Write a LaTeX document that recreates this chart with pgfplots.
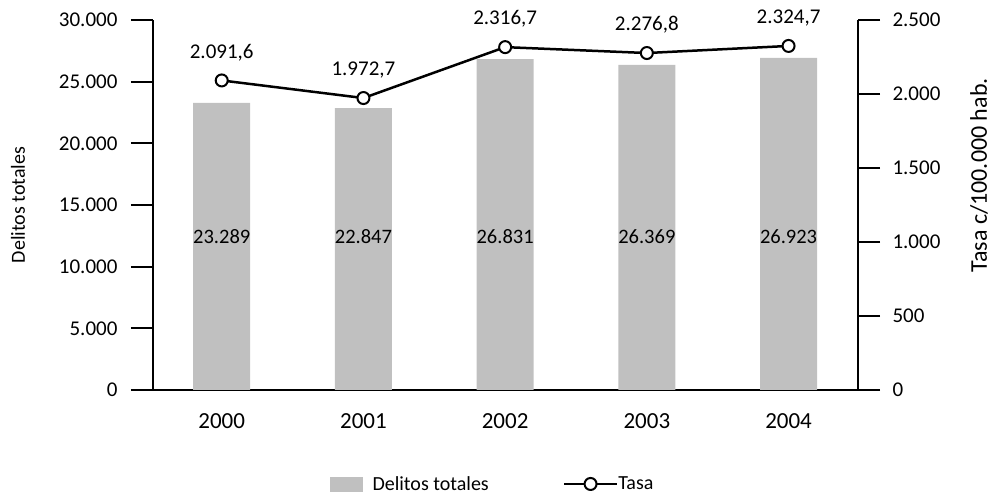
\documentclass[border=0pt]{standalone}
\usepackage{pgfplots}
\pgfplotsset{compat=1.18}
\usepackage{fontspec}
\setmainfont{Carlito}
\definecolor{barcol}{HTML}{C0C0C0}
\begin{document}
\begin{tikzpicture}[font=\fontsize{20}{24}\selectfont]
\useasboundingbox (-153pt,-104pt) rectangle (838pt,390pt);
\begin{axis}[
  scale only axis, width=705pt, height=370pt,
  at={(0pt,0pt)}, anchor=south west,
  xmin=-0.485, xmax=4.49,
  axis line style={line width=2.5pt, black},
  ymin=0, ymax=30000,
  ytick={0,5000,10000,15000,20000,25000,30000},
  scaled y ticks=false,
  axis y line*=left, axis x line*=bottom,
  xtick={0,1,2,3,4}, xticklabels={2000,2001,2002,2003,2004},
  major tick length=22pt, tick align=outside,
  every tick/.style={black, line width=2pt},
  xtick style={draw=none},
  /pgf/number format/assume math mode=true,
  /pgf/number format/use comma,
  /pgf/number format/1000 sep={.},
  yticklabel style={font=\fontsize{21}{24}\selectfont, xshift=-10pt},
  x tick label style={yshift=2pt, font=\fontsize{23}{26}\selectfont},
  ylabel={Delitos totales},
  y label style={at={(axis description cs:-0.1915,0.5)}, anchor=center},
]
\addplot[ybar, bar width=57pt, fill=barcol, draw=none] coordinates {
  (0,23289) (1,22847) (2,26831) (3,26369) (4,26923)
};
\addplot[draw=none, mark=none, nodes near coords, point meta=explicit symbolic,
  nodes near coords style={anchor=center, font=\fontsize{20.5}{24}\selectfont}] coordinates {
  (0,12400) [23.289] (1,12400) [22.847] (2,12400) [26.831] (3,12400) [26.369] (4,12400) [26.923]
};
\end{axis}
\begin{axis}[
  scale only axis, width=705pt, height=370pt,
  at={(0pt,0pt)}, anchor=south west,
  xmin=-0.485, xmax=4.49,
  axis line style={line width=2.5pt, black},
  ymin=0, ymax=2500,
  ytick={0,500,1000,1500,2000,2500},
  axis y line*=right, axis x line=none,
  major tick length=22pt, tick align=outside,
  every tick/.style={black, line width=2pt},
  /pgf/number format/assume math mode=true,
  /pgf/number format/use comma,
  /pgf/number format/1000 sep={.},
  yticklabel style={font=\fontsize{21}{24}\selectfont, xshift=9pt},
  ylabel={Tasa c/100.000 hab.},
  y label style={at={(axis description cs:1.1716,0.58)}, anchor=center, font=\fontsize{24}{28}\selectfont},
  legend style={at={(axis description cs:0.482,-0.254)}, anchor=center, draw=none,
    legend columns=2, font=\fontsize{20}{24}\selectfont,
    /tikz/every even column/.append style={column sep=72pt},
    legend cell align=left},
]
\addlegendimage{legend image code/.code={\fill[barcol] (0pt,-7pt) rectangle (32pt,7pt);}}
\addlegendentry{\hspace{8pt}Delitos totales}
\addplot[black, line width=2.5pt, mark=*, mark size=6pt,
  mark options={fill=white, line width=2pt},
  nodes near coords, point meta=explicit symbolic,
  nodes near coords style={anchor=center, yshift=28pt, font=\fontsize{21}{24}\selectfont},
  legend image code/.code={\draw[black, line width=2.5pt] (0pt,0pt)--(53pt,0pt);
    \draw[black, fill=white, line width=2pt] (26.5pt,0pt) circle (6pt);}
] coordinates {
  (0,2091.6) [2.091,6] (1,1972.7) [1.972,7] (2,2316.7) [2.316,7] (3,2276.8) [2.276,8] (4,2324.7) [2.324,7]
};
\addlegendentry{\hspace{-2pt}Tasa}
\end{axis}
\end{tikzpicture}
\end{document}
